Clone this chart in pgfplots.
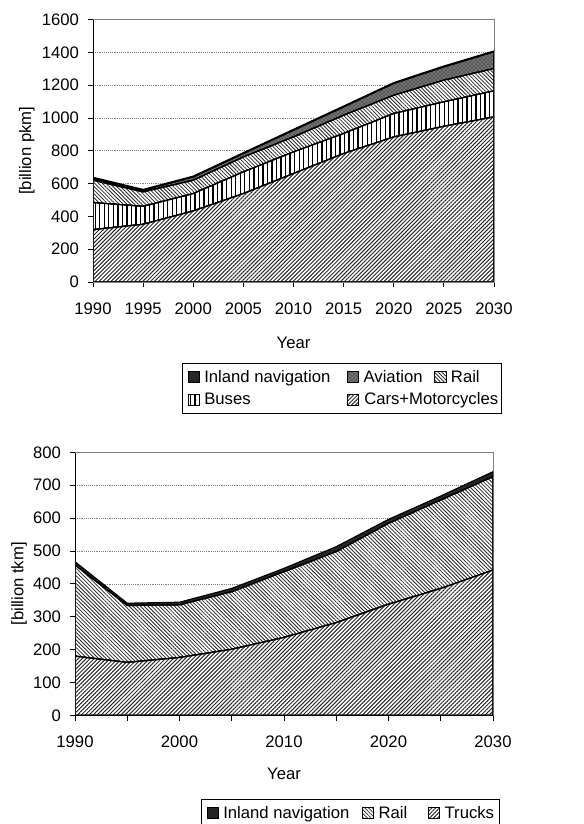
\documentclass[border=0pt]{standalone}
\usepackage{fontspec}
\setmainfont{Liberation Sans}
\usepackage{pgfplots}
\pgfplotsset{compat=1.18}
\usepackage{pgfplotstable}
\usetikzlibrary{patterns,patterns.meta}

\pgfplotstableread{
year cars buses rail aviation inland
1990 319 165 136 10 8
1995 352 109 88 10 5
2000 433 106 81 20 5
2005 539 132 91 21 5
2010 661 132 91 41 5
2015 783 122 111 51 5
2020 884 143 111 72 5
2025 949 149 132 81 5
2030 1006 159 136 102 5
}\pkm

\pgfplotstableread{
year trucks rail inland
1990 180 277 10
1995 161 173 7
2000 176 160 8
2005 201 175 10
2010 237 200 10
2015 282 216 15
2020 338 246 12
2025 386 269 12
2030 442 284 15
}\tkm

\tikzset{
  carsP/.style={draw=black, line width=0.9pt, fill=white, postaction={pattern={Lines[angle=45,distance=2.1pt,line width=0.75pt]}, pattern color=black!85}},
  railP/.style={draw=black, line width=0.9pt, fill=white, postaction={pattern={Lines[angle=-45,distance=2.0pt,line width=0.6pt]}, pattern color=black!85}},
  busP/.style={draw=black, line width=0.9pt, fill=white, postaction={pattern={Lines[angle=90,distance=3.4pt,line width=1pt]}, pattern color=black}},
  aviP/.style={draw=black, line width=0.9pt, fill=black!55, postaction={pattern=crosshatch dots, pattern color=black}},
  inlP/.style={draw=black, line width=0.9pt, fill=black!85},
}

\pgfplotsset{
  common/.style={
    scale only axis,
    font=\fontsize{12.5}{15}\selectfont,
    tick label style={font=\fontsize{12.5}{15}\selectfont},
    x tick label style={yshift=-8pt},
    y tick label style={xshift=-3pt},
    /pgf/number format/assume math mode=true,
    /pgf/number format/1000 sep={},
    xmin=1990, xmax=2030, ymin=0,
    xtick pos=bottom, ytick pos=left,
    tick align=outside, major tick length=4pt,
    tick style={black, line width=0.6pt},
    axis line style={gray, line width=0.5pt},
    ymajorgrids, major grid style={densely dotted, gray, line width=0.5pt},
    stack plots=y,
    legend cell align=left,
    legend image code/.code={\draw[##1, line width=0.5pt] (0pt,-4pt) rectangle (8.5pt,4pt);},
    legend style={draw=black, line width=0.5pt, font=\fontsize{12.5}{15}\selectfont,
      inner xsep=4pt, inner ysep=3pt, row sep=2.5pt,
      nodes={inner xsep=0pt},
      /tikz/every odd column/.append style={column sep=3.5pt},
      /tikz/every even column/.append style={column sep=0pt}},
  }
}

\begin{document}
\begin{tikzpicture}
\path[use as bounding box] (0,0) rectangle (437.25pt,618pt);

% top chart
\begin{axis}[common,
  at={(69.75pt,406.5pt)}, anchor=south west,
  width=300.75pt, height=196.9pt,
  ymax=1600, ytick={0,200,...,1600},
  xtick={1990,1995,...,2030},
  xlabel={Year}, ylabel={[billion pkm]},
  every axis x label/.append style={at={(axis description cs:0.5,-0.232)}, anchor=center},
  every axis y label/.append style={at={(axis description cs:-0.165,0.5)}, anchor=center},
  reverse legend, legend columns=3,
  legend style={at={(0.2219,-0.3086)}, anchor=north west},
]
\addplot[carsP] table[x=year,y=cars] {\pkm} \closedcycle;
\addlegendentry{\rlap{Cars+Motorcycles}}
\addplot[busP] table[x=year,y=buses] {\pkm} \closedcycle;
\addlegendentry{Buses}
\addplot[railP] table[x=year,y=rail] {\pkm} \closedcycle;
\addlegendentry{\makebox[33.5pt][l]{Rail}}
\addplot[aviP] table[x=year,y=aviation] {\pkm} \closedcycle;
\addlegendentry{\makebox[53pt][l]{Aviation}}
\addplot[inlP] table[x=year,y=inland] {\pkm} \closedcycle;
\addlegendentry{\makebox[107pt][l]{Inland navigation}}
\draw[gray, line width=0.5pt] (rel axis cs:0,1) -- (rel axis cs:1,1) -- (rel axis cs:1,0);
\draw[black, line width=0.8pt] (rel axis cs:0,1) -- (rel axis cs:0,0) -- (rel axis cs:1,0);
\end{axis}

% bottom chart
\begin{axis}[common,
  at={(56.25pt,81.5pt)}, anchor=south west,
  width=313.5pt, height=197.25pt,
  ymax=800, ytick={0,100,...,800},
  xtick={1990,1995,...,2030},
  xticklabels={1990,,2000,,2010,,2020,,2030},
  xlabel={Year}, ylabel={[billion tkm]},
  every axis x label/.append style={at={(axis description cs:0.5,-0.223)}, anchor=center},
  every axis y label/.append style={at={(axis description cs:-0.134,0.5)}, anchor=center},
  reverse legend, legend columns=3,
  legend style={at={(0.3014,-0.318)}, anchor=north west},
]
\addplot[carsP] table[x=year,y=trucks] {\tkm} \closedcycle;
\addlegendentry{\makebox[37pt][l]{Trucks}}
\addplot[railP] table[x=year,y=rail] {\tkm} \closedcycle;
\addlegendentry{\makebox[37pt][l]{Rail}}
\addplot[inlP] table[x=year,y=inland] {\tkm} \closedcycle;
\addlegendentry{\makebox[104pt][l]{Inland navigation}}
\draw[gray, line width=0.5pt] (rel axis cs:0,1) -- (rel axis cs:1,1) -- (rel axis cs:1,0);
\draw[black, line width=0.8pt] (rel axis cs:0,1) -- (rel axis cs:0,0) -- (rel axis cs:1,0);
\end{axis}
\end{tikzpicture}
\end{document}
